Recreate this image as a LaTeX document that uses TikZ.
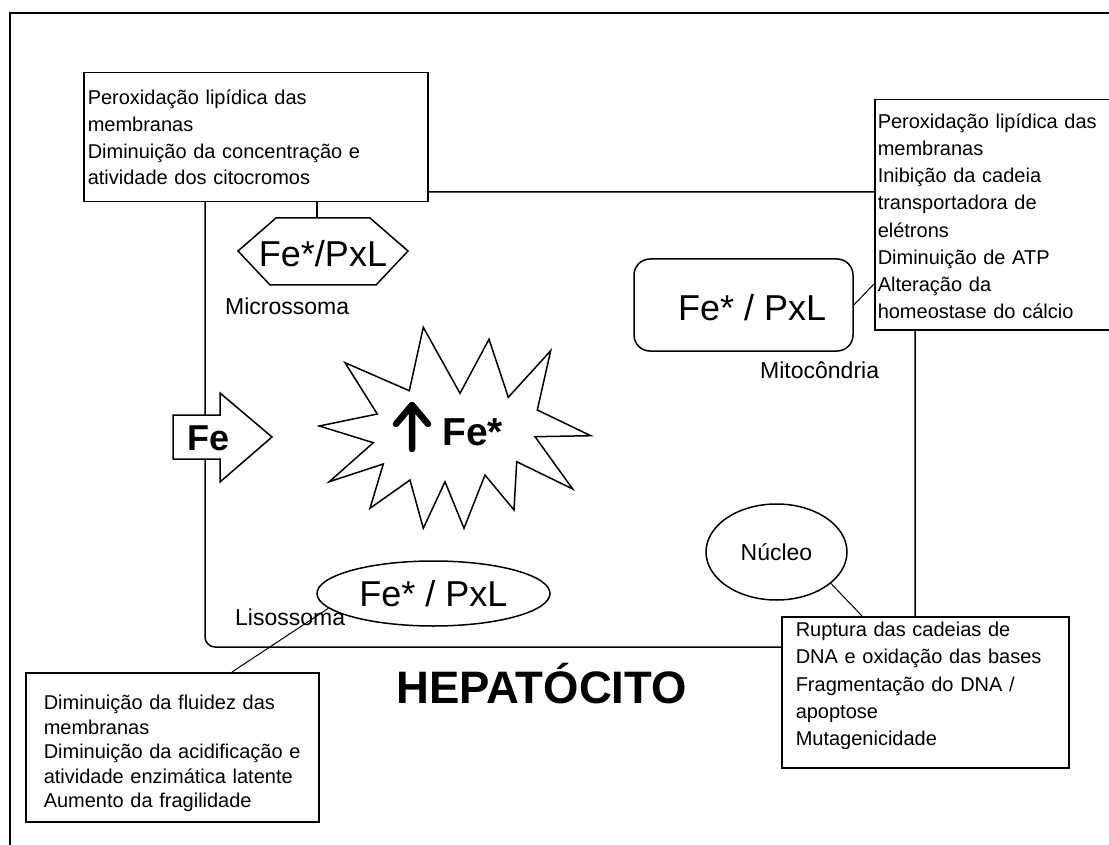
\documentclass[tikz,border=0pt]{standalone}
\usepackage{fontspec}
\setmainfont{Liberation Sans}
\usetikzlibrary{shapes.geometric,calc}
\begin{document}
\begin{tikzpicture}[x=1pt,y=-1pt,
  frame/.style={line width=2pt},
  cell/.style={line width=1.5pt},
  txtbox/.style={draw,fill=white,line width=1.5pt,anchor=north west,align=left,inner ysep=0pt},
  thin/.style={line width=1pt},
  lbl/.style={font=\fontsize{23}{23}\selectfont,anchor=base west,inner sep=0pt},
  big/.style={font=\fontsize{36}{36}\selectfont,inner sep=0pt},
]
\useasboundingbox (0,0) rectangle (1109,845);
\draw[frame] (10,850) -- (10,13) -- (1115,13);
% cell outline
\draw[cell,rounded corners=10pt] (205,192) rectangle (915,647);

% boxes
\node[txtbox, inner xsep=4pt, text width=336pt, font=\fontsize{20}{26.7}\selectfont] (tl) at (83,72)
 {\rule{0pt}{32pt}Peroxidação lipídica das\\membranas\\Diminuição da concentração e\\atividade dos citocromos\rule[-16.9pt]{0pt}{16.9pt}};
\node[txtbox, inner xsep=3pt, text width=240pt, font=\fontsize{20}{27.2}\selectfont] (mb) at (874,99)
 {\rule{0pt}{28.5pt}Peroxidação lipídica das\\membranas\\Inibição da cadeia\\transportadora de\\elétrons\\Diminuição de ATP\\Alteração da\\homeostase do cálcio\rule[-11.1pt]{0pt}{11.1pt}};
\node[txtbox, inner xsep=14pt, text width=259pt, font=\fontsize{20}{27.2}\selectfont] (rb) at (781,616)
 {\rule{0pt}{20pt}Ruptura das cadeias de\\DNA e oxidação das bases\\Fragmentação do DNA /\\apoptose\\Mutagenicidade\rule[-22.2pt]{0pt}{22.2pt}};
\node[txtbox, inner xsep=18pt, text width=257pt, font=\fontsize{20}{24.5}\selectfont] (lb) at (25,672)
 {\rule{0pt}{37pt}Diminuição da fluidez das\\membranas\\Diminuição da acidificação e\\atividade enzimática latente\\Aumento da fragilidade\rule[-14pt]{0pt}{14pt}};

% microssoma
\draw[cell, fill=white] (238,251) -- (276,218) -- (370,218) -- (408,251) -- (376,285) -- (270,285) -- cycle;
\coordinate (hextop) at (317,218);
\node[big, anchor=base] (hextxt) at (323,266) {Fe*/PxL};
\draw[cell] (hextop) -- (hextop |- tl.south);
\node[lbl] (micro) at (225,314) {Microssoma};

% mitocondria
\node[draw, cell, rounded corners=16pt, minimum width=219pt, minimum height=92pt] (mito) at (743.5,305) {};
\node[big, anchor=base west] (mitotxt) at (678,320) {Fe* / PxL};
\node[lbl] (mitolbl) at (760,378) {Mitocôndria};
\draw[thin] (mito.east) -- ($(mb.north west)+(0,185)$);

% nucleo
\node[draw, cell, ellipse, minimum width=141pt, minimum height=96pt, inner sep=0pt, font=\fontsize{23}{23}\selectfont] (nuc) at (776.5,552) {Núcleo};
\draw[thin] (nuc.-30) -- ($(rb.north west)+(81,0)$);

% lisossoma
\node[draw, cell, ellipse, fill=white, minimum width=233pt, minimum height=65pt, inner sep=0pt, font=\fontsize{36}{36}\selectfont] (lys) at (433.5,593.5) {Fe* / PxL};
\draw[thin] (lys.188) -- ($(lb.north west)+(207,0)$);
\node[lbl] (lyslbl) at (235,625) {Lisossoma};

% Fe arrow
\draw[cell, fill=white] (173,415) -- (220,415) -- (220,393) -- (272,437) -- (220,482) -- (220,459) -- (173,459) -- cycle;
\node[font=\fontsize{36}{36}\selectfont\bfseries, anchor=base west, inner sep=0pt] (fe) at (187,450) {Fe};

% starburst
\draw[cell, fill=white] (423.3,327.3) -- (460,393.3) -- (489,339.3) -- (508.3,397.3) -- (550.7,350.7) -- (537.3,410) -- (590.7,435.7) -- (535,436.7) -- (572.7,489) -- (516.7,461.7) -- (514,510) -- (485,475) -- (464,528.3) -- (445,481.7) -- (423.3,528.3) -- (410,480) -- (370,508.3) -- (383.3,464) -- (329.3,481.7) -- (373.3,442.7) -- (319.3,426) -- (377.3,414) -- (345,362.7) -- (409.3,390.7) -- cycle;
\draw[line width=6.5pt, line cap=round, line join=round] (412,449) -- (412,405) (396,424) -- (412,405) -- (428,424);
\node[font=\fontsize{39}{39}\selectfont\bfseries, anchor=base west, inner sep=0pt] (festar) at (442,445) {Fe*};

% title
\node[font=\fontsize{45.5}{45.5}\selectfont\bfseries, anchor=base west, inner sep=0pt] (hep) at (396,703) {HEPATÓCITO};
\end{tikzpicture}
\end{document}
